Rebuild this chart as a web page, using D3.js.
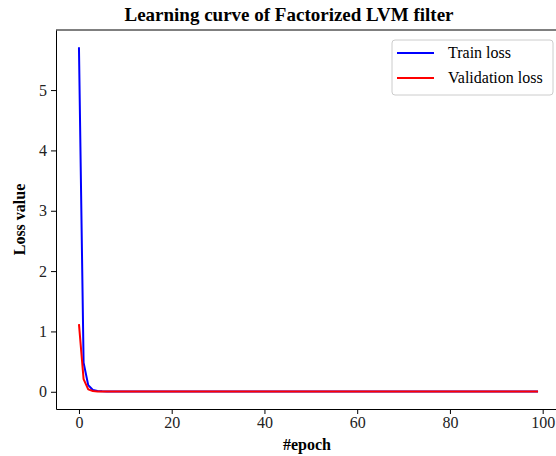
<!DOCTYPE html>
<html>
<head>
<meta charset="utf-8">
<script src="https://cdn.jsdelivr.net/npm/d3@7"></script>
<style>
	body { margin: 0; background: #fff; }
	text { font-family: "Liberation Serif", "Times New Roman", serif; }
</style>
</head>
<body>
<svg class="chart" width="556" height="456"></svg>
<script>
// loss values, one per epoch (0..99)
var trainLoss = [
	5.71, 0.48, 0.11, 0.03, 0.012, 0.008, 0.006, 0.005, 0.005, 0.004,
	0.004, 0.004, 0.004, 0.004, 0.003, 0.003, 0.003, 0.003, 0.003, 0.003,
	0.003, 0.003, 0.003, 0.003, 0.003, 0.003, 0.003, 0.003, 0.003, 0.003,
	0.003, 0.003, 0.003, 0.003, 0.003, 0.003, 0.003, 0.003, 0.003, 0.003,
	0.003, 0.003, 0.003, 0.003, 0.003, 0.003, 0.003, 0.003, 0.003, 0.003,
	0.003, 0.003, 0.003, 0.003, 0.003, 0.003, 0.003, 0.003, 0.003, 0.003,
	0.003, 0.003, 0.003, 0.003, 0.003, 0.003, 0.003, 0.003, 0.003, 0.003,
	0.003, 0.003, 0.003, 0.003, 0.003, 0.003, 0.003, 0.003, 0.003, 0.003,
	0.003, 0.003, 0.003, 0.003, 0.003, 0.003, 0.003, 0.003, 0.003, 0.003,
	0.003, 0.003, 0.003, 0.003, 0.003, 0.003, 0.003, 0.003, 0.003, 0.003
];
var valLoss = [
	1.12, 0.21, 0.04, 0.012, 0.006, 0.005, 0.004, 0.004, 0.004, 0.004,
	0.004, 0.004, 0.004, 0.004, 0.004, 0.004, 0.004, 0.004, 0.004, 0.004,
	0.004, 0.004, 0.004, 0.004, 0.004, 0.004, 0.004, 0.004, 0.004, 0.004,
	0.004, 0.004, 0.004, 0.004, 0.004, 0.004, 0.004, 0.004, 0.004, 0.004,
	0.004, 0.004, 0.004, 0.004, 0.004, 0.004, 0.004, 0.004, 0.004, 0.004,
	0.004, 0.004, 0.004, 0.004, 0.004, 0.004, 0.004, 0.004, 0.004, 0.004,
	0.004, 0.004, 0.004, 0.004, 0.004, 0.004, 0.004, 0.004, 0.004, 0.004,
	0.004, 0.004, 0.004, 0.004, 0.004, 0.004, 0.004, 0.004, 0.004, 0.004,
	0.004, 0.004, 0.004, 0.004, 0.004, 0.004, 0.004, 0.004, 0.004, 0.004,
	0.004, 0.004, 0.004, 0.004, 0.004, 0.004, 0.004, 0.004, 0.004, 0.004
];
var seriesNames = ["Train loss", "Validation loss"];
var seriesColors = ["#0000ff", "#ff0000"];
var xTicks = [0, 20, 40, 60, 80, 100];
var yTicks = [0, 1, 2, 3, 4, 5];

var plotLeft = 56, plotTop = 30, plotRight = 561, plotBottom = 409;

// matplotlib style 5% padding around the data
var n = trainLoss.length;
var xPad = (n - 1) * 0.05;
var yMin = 0, yMax = d3.max(trainLoss.concat(valLoss));
var yPad = (yMax - yMin) * 0.05;

var x = d3.scaleLinear().domain([-xPad, n - 1 + xPad]).range([plotLeft, plotRight]);
var y = d3.scaleLinear().domain([yMin - yPad, yMax + yPad]).range([plotBottom, plotTop]);

var svg = d3.select("svg.chart");

// title
svg.append("text")
	.attr("x", 289)
	.attr("y", 21)
	.attr("text-anchor", "middle")
	.style("font-size", "19px")
	.style("font-weight", "bold")
	.text("Learning curve of Factorized LVM filter");

// axes
var xAxis = svg.append("g")
	.attr("transform", "translate(0," + plotBottom + ")")
	.call(d3.axisBottom(x).tickValues(xTicks).tickFormat(d3.format("d"))
		.tickSize(5).tickPadding(3).tickSizeOuter(0));
var yAxis = svg.append("g")
	.attr("transform", "translate(" + plotLeft + ",0)")
	.call(d3.axisLeft(y).tickValues(yTicks).tickFormat(d3.format("d"))
		.tickSize(5).tickPadding(4).tickSizeOuter(0));

[xAxis, yAxis].forEach(function(a) {
	a.select(".domain").attr("stroke", "#000").attr("stroke-width", 1);
	a.selectAll(".tick line").attr("stroke", "#000").attr("stroke-width", 1);
	a.selectAll(".tick text")
		.attr("fill", "#222")
		.style("font-family", "'Liberation Serif', serif")
		.style("font-size", "16px");
});

// top spine
svg.append("line")
	.attr("x1", plotLeft).attr("x2", plotRight)
	.attr("y1", plotTop).attr("y2", plotTop)
	.attr("stroke", "#000").attr("stroke-width", 1);

// axis labels
svg.append("text")
	.attr("x", 307)
	.attr("y", 450)
	.attr("text-anchor", "middle")
	.style("font-size", "16px")
	.style("font-weight", "bold")
	.text("#epoch");
svg.append("text")
	.attr("transform", "translate(25," + ((plotTop + plotBottom) / 2) + ") rotate(-90)")
	.attr("text-anchor", "middle")
	.style("font-size", "16px")
	.style("font-weight", "bold")
	.text("Loss value");

// lines
var line = d3.line()
	.x(function(d, i) { return x(i); })
	.y(function(d) { return y(d); });

[trainLoss, valLoss].forEach(function(s, k) {
	svg.append("path")
		.datum(s)
		.attr("fill", "none")
		.attr("stroke", seriesColors[k])
		.attr("stroke-width", 2)
		.attr("stroke-linejoin", "round")
		.attr("d", line);
});

// legend
var legend = svg.append("g").attr("transform", "translate(392,40)");
legend.append("rect")
	.attr("width", 161)
	.attr("height", 55)
	.attr("rx", 3)
	.attr("fill", "#fff")
	.attr("fill-opacity", 0.8)
	.attr("stroke", "#ccc");
seriesNames.forEach(function(name, k) {
	var g = legend.append("g").attr("transform", "translate(0," + (13 + k * 25) + ")");
	g.append("line")
		.attr("x1", 5).attr("x2", 42)
		.attr("stroke", seriesColors[k])
		.attr("stroke-width", 2);
	g.append("text")
		.attr("x", 56)
		.attr("y", 5)
		.style("font-size", "16px")
		.text(name);
});
</script>
</body>
</html>
